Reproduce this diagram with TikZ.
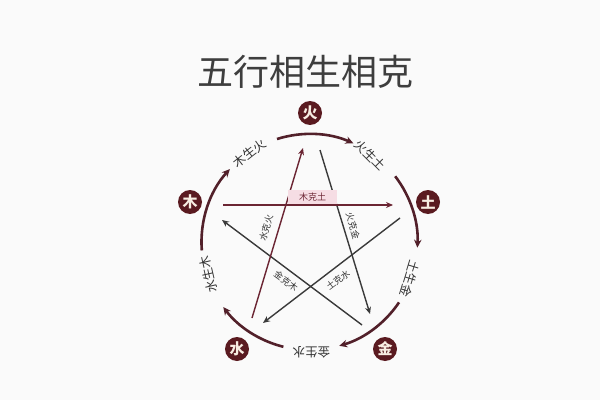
\documentclass[tikz,border=0pt]{standalone}
\usepackage{fontspec}
\setmainfont{Noto Sans CJK SC}
\usetikzlibrary{arrows.meta}
\definecolor{bg}{HTML}{FAFAFA}
\definecolor{nodefill}{HTML}{5A1A20}
\definecolor{nodetext}{HTML}{F8EDE2}
\definecolor{arccol}{HTML}{52202A}
\definecolor{redline}{HTML}{6B2533}
\definecolor{grayline}{HTML}{3A3A3A}
\definecolor{titlecol}{HTML}{3E3E3E}
\definecolor{labelcol}{HTML}{333333}
\definecolor{pinkbg}{HTML}{F6DDE4}
\tikzset{
  elem/.style={circle, fill=nodefill, text=nodetext, minimum size=24pt, inner sep=0pt, font=\fontsize{15}{15}\selectfont\bfseries},
  arcline/.style={draw=arccol, line width=2.6pt, -{Stealth[length=8pt,width=7.5pt]}},
  ring/.style={text=labelcol, inner sep=0pt, font=\fontsize{12.5}{12.5}\selectfont},
  keline/.style={line width=1.4pt, -{Stealth[length=7pt,width=6pt]}},
  kelabel/.style={text=labelcol, inner sep=0pt, font=\fontsize{9}{9}\selectfont}
}
\begin{document}
\begin{tikzpicture}[x=1pt,y=1pt]
\fill[bg] (0,0) rectangle (600,400);
\useasboundingbox (0,0) rectangle (600,400);

% title
\node[text=titlecol, font=\fontsize{36}{36}\selectfont, inner sep=0pt] (title) at (305,328) {五行相生相克};

% centre of the cycle
\coordinate (C) at (309.5,158);

% 生 cycle arcs
\draw[arcline] ([shift={(C)}]107.5:108) arc[start angle=107.5, end angle=66, radius=108];
\draw[arcline] ([shift={(C)}]37.5:108) arc[start angle=37.5, end angle=-3, radius=108];
\draw[arcline] ([shift={(C)}]-34:108) arc[start angle=-34, end angle=-74, radius=108];
\draw[arcline] ([shift={(C)}]-104:108) arc[start angle=-104, end angle=-143, radius=108];
\draw[arcline] ([shift={(C)}]184.5:108) arc[start angle=184.5, end angle=137.5, radius=108];

% 生 labels
\node[ring, rotate=-45] (s1) at ([shift={(C)}]55:106) {火生土};
\node[ring, rotate=-107] (s2) at ([shift={(C)}]-20:107) {土生金};
\node[ring, rotate=180] (s3) at ([shift={(C)}]-89:110) {金生水};
\node[ring, rotate=103] (s4) at ([shift={(C)}]-162:106) {水生木};
\node[ring, rotate=38] (s5) at ([shift={(C)}]124:107) {木生火};

% element nodes
\node[elem] (huo) at (310,287) {火};
\node[elem] (mu) at (190,198) {木};
\node[elem] (tu) at (428,198) {土};
\node[elem] (shui) at (237,51) {水};
\node[elem] (jin) at (385,51) {金};

% star end points
\coordinate (muS) at (223,195);
\coordinate (tuE) at (393,195);
\coordinate (shuiS) at (252,82);
\coordinate (huoE) at (303,252);
\coordinate (huoS) at (320,250);
\coordinate (jinE) at (370,86);
\coordinate (tuS) at (400,182);
\coordinate (shuiE) at (263,77);
\coordinate (jinS) at (362,75);
\coordinate (muE) at (222,180);

% 克 lines
\draw[keline, draw=grayline] (huoS) -- (jinE);
\draw[keline, draw=grayline] (tuS) -- (shuiE);
\draw[keline, draw=grayline] (jinS) -- (muE);
\draw[keline, draw=redline] (shuiS) -- (huoE);
\draw[keline, draw=redline] (muS) -- (tuE);

% 克 labels
\node[kelabel, fill=pinkbg, text=redline, minimum width=49pt, minimum height=14pt, anchor=south] (k1) at (312.5,196) {木克土};
\node[kelabel, rotate=74] (k2) at (266,172) {水克火};
\node[kelabel, rotate=-74] (k3) at (353,174) {火克金};
\node[kelabel, rotate=37] (k4) at (338,120) {土克水};
\node[kelabel, rotate=-37] (k5) at (286,119) {金克木};
\end{tikzpicture}
\end{document}
